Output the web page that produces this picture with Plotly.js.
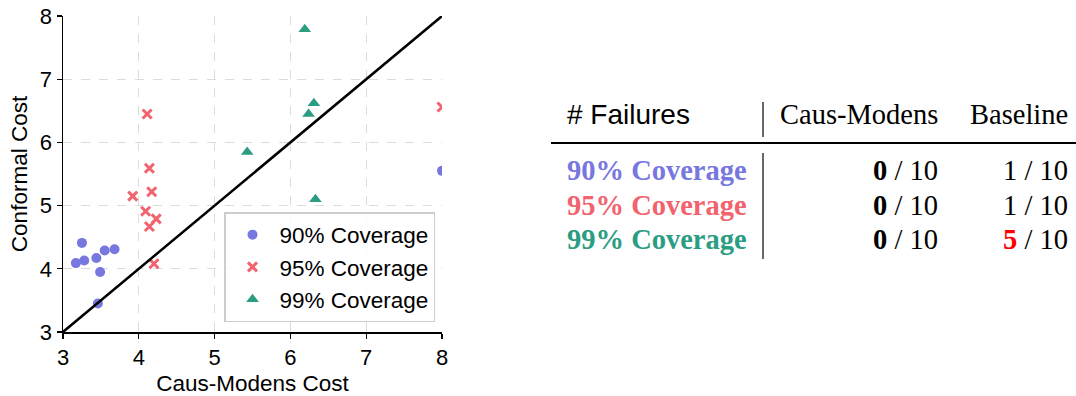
<!DOCTYPE html>
<html>
<head>
<meta charset="utf-8">
<script src="https://cdn.plot.ly/plotly-3.0.1.min.js"></script>
<style>html,body{margin:0;padding:0;background:#fff;}#chart{width:1076px;height:396px;}</style>
</head>
<body>
<div id="chart"></div>
<script>
// ---- data ----
const seriesNames = ["90% Coverage", "95% Coverage", "99% Coverage"];
const x90 = [3.17, 3.28, 3.25, 3.44, 3.55, 3.68, 3.49, 3.46, 8.0];
const y90 = [4.09, 4.13, 4.41, 4.17, 4.29, 4.31, 3.95, 3.45, 5.55];
const x95 = [4.11, 4.14, 4.17, 3.92, 4.09, 4.23, 4.14, 4.20, 8.0];
const y95 = [6.45, 5.59, 5.22, 5.15, 4.91, 4.79, 4.67, 4.08, 6.56];
const x99 = [6.19, 6.31, 6.24, 5.43, 6.33];
const y99 = [7.79, 6.62, 6.45, 5.85, 5.10];
const diagX = [3, 8];
const diagY = [3, 8];
const xTicks = [3, 4, 5, 6, 7, 8];
const yTicks = [3, 4, 5, 6, 7, 8];

const tableHeader = ["# Failures", "Caus-Modens", "Baseline"];
const rowLabels = ["90% Coverage", "95% Coverage", "99% Coverage"];
const causFailures = [0, 0, 0];
const baselineFailures = [1, 1, 5];
const runsTotal = 10;

// ---- styles ----
const colors = ["#7777e0", "#f2636e", "#2a9d82"];
const sans = "Liberation Sans, Arial, sans-serif";
const serif = "Liberation Serif, Times New Roman, serif";

const W = 1076, H = 396;
const M = {l: 63, r: 0, t: 16, b: 64};
const pw = W - M.l - M.r, ph = H - M.t - M.b;
const px = v => (v - M.l) / pw;
const py = v => (H - M.b - v) / ph;
const plotRight = 442;

const traces = [
  {x: x90, y: y90, name: seriesNames[0], mode: "markers", type: "scatter", legendgroup: "a",
   marker: {symbol: "circle", size: 10, color: colors[0]}},
  {x: x95, y: y95, name: seriesNames[1], mode: "markers", type: "scatter", legendgroup: "b",
   marker: {symbol: "x-thin-open", size: 9, color: colors[1], line: {width: 3, color: colors[1]}}},
  {x: x99, y: y99, name: seriesNames[2], mode: "markers", type: "scatter", legendgroup: "c",
   marker: {symbol: "triangle-up", size: 11, color: colors[2]}},
  {x: diagX, y: diagY, mode: "lines", type: "scatter", showlegend: false, hoverinfo: "skip",
   line: {color: "#000", width: 2.5}}
];

const annotations = [];
const shapes = [];
const colX = [567, 940, 1070];
const headY = 114;
annotations.push({xref: "paper", yref: "paper", x: px(colX[0] - 2), y: py(headY), xanchor: "left", yanchor: "middle",
  text: tableHeader[0], showarrow: false, font: {family: sans, size: 28, color: "#000"}});
annotations.push({xref: "paper", yref: "paper", x: px(colX[1]), y: py(headY), xanchor: "right", yanchor: "middle",
  text: tableHeader[1], showarrow: false, font: {family: serif, size: 28.5, color: "#000"}});
annotations.push({xref: "paper", yref: "paper", x: px(colX[2]), y: py(headY), xanchor: "right", yanchor: "middle",
  text: tableHeader[2], showarrow: false, font: {family: serif, size: 28.5, color: "#000"}});
const rowY = [171, 205, 239];
rowLabels.forEach((lab, i) => {
  annotations.push({xref: "paper", yref: "paper", x: px(colX[0] - 2), y: py(rowY[i]), xanchor: "left", yanchor: "middle",
    text: "<b>" + lab + "</b>", showarrow: false, font: {family: serif, size: 28.5, color: colors[i]}});
  annotations.push({xref: "paper", yref: "paper", x: px(colX[1]), y: py(rowY[i]), xanchor: "right", yanchor: "middle",
    text: "<b>" + causFailures[i] + "</b> / " + runsTotal, showarrow: false,
    font: {family: serif, size: 28.5, color: "#000"}});
  const worst = baselineFailures[i] > 1;
  const bt = worst ? "<b><span style='color:#ff0000'>" + baselineFailures[i] + "</span></b>" : String(baselineFailures[i]);
  annotations.push({xref: "paper", yref: "paper", x: px(colX[2]), y: py(rowY[i]), xanchor: "right", yanchor: "middle",
    text: bt + " / " + runsTotal, showarrow: false, font: {family: serif, size: 28.5, color: "#000"}});
});
shapes.push({type: "line", xref: "paper", yref: "paper", x0: px(763), x1: px(763), y0: py(102), y1: py(137),
  line: {color: "#000", width: 1.2}});
shapes.push({type: "line", xref: "paper", yref: "paper", x0: px(763), x1: px(763), y0: py(153), y1: py(259),
  line: {color: "#000", width: 1.2}});
shapes.push({type: "line", xref: "paper", yref: "paper", x0: px(551), x1: px(1076), y0: py(143), y1: py(143),
  line: {color: "#000", width: 2}});

const axisCommon = {
  range: [3, 8], showline: true, linecolor: "#000", linewidth: 1.5, mirror: false,
  ticks: "outside", ticklen: 5, tickwidth: 1.2, tickcolor: "#000",
  showgrid: true, gridcolor: "#dcdcdc", griddash: "dash", gridwidth: 1,
  zeroline: false, tickfont: {family: sans, size: 22, color: "#000"}
};

const layout = {
  width: W, height: H, margin: M,
  paper_bgcolor: "#fff", plot_bgcolor: "#fff",
  font: {family: sans, color: "#000"},
  xaxis: Object.assign({}, axisCommon, {domain: [0, px(plotRight)], tickvals: xTicks,
    title: {text: "Caus-Modens Cost", font: {family: sans, size: 22.5}, standoff: 6}}),
  yaxis: Object.assign({}, axisCommon, {tickvals: yTicks,
    title: {text: "Conformal Cost", font: {family: sans, size: 22.5}, standoff: 6}}),
  showlegend: true,
  legend: {x: px(435), xanchor: "right", y: py(322), yanchor: "bottom",
    bgcolor: "rgba(255,255,255,0.85)", bordercolor: "#cccccc", borderwidth: 1.5,
    font: {family: sans, size: 22.5, color: "#000"}, itemwidth: 44, tracegroupgap: 0},
  annotations: annotations,
  shapes: shapes
};

Plotly.newPlot("chart", traces, layout, {displayModeBar: false, staticPlot: true});
</script>
</body>
</html>
